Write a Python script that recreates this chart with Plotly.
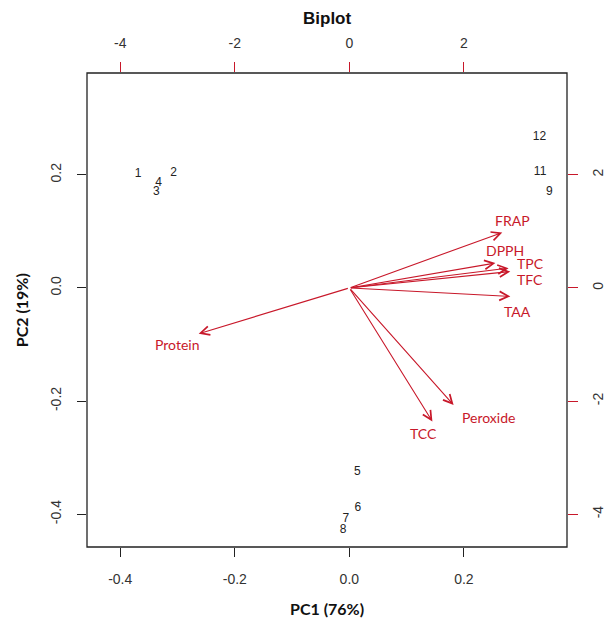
import plotly.graph_objects as go

# observation scores (bottom / left axes)
obs_labels = ['1', '2', '3', '4', '5', '6', '7', '8', '9', '11', '12']
pc1_scores = [-0.369, -0.307, -0.337, -0.333, 0.014, 0.015, -0.006, -0.011, 0.349, 0.333, 0.332]
pc2_scores = [0.201, 0.203, 0.170, 0.185, -0.326, -0.389, -0.409, -0.428, 0.170, 0.205, 0.266]

# variable loadings (top / right axes)
var_labels = ['FRAP', 'DPPH', 'TPC', 'TFC', 'TAA', 'Protein', 'TCC', 'Peroxide']
load_pc1 = [2.67, 2.55, 2.78, 2.81, 2.81, -2.63, 1.45, 1.82]
load_pc2 = [0.98, 0.44, 0.35, 0.29, -0.15, -0.81, -2.36, -2.07]

# label offsets in pixels (style)
lab_dx = [10, 10, 22, 20, 7, -22, -9, 35]
lab_dy = [12, 13, 5, -8, -15, -11, -12, -12]

bottom_ticks = [-0.4, -0.2, 0.0, 0.2]
bottom_ticktext = ['-0.4', '-0.2', '0.0', '0.2']
top_ticks = [-4, -2, 0, 2]
top_ticktext = ['-4', '-2', '0', '2']

lim = [-0.458, 0.38]
lim2 = [v * 10 for v in lim]
RED = '#c8182a'
TICKFONT = dict(family='Liberation Sans, Arial', size=14, color='#333333')

fig = go.Figure()
fig.add_trace(go.Scatter(
    x=pc1_scores, y=pc2_scores, text=obs_labels, mode='text',
    textfont=dict(family='Liberation Sans, Arial', size=12, color='#222222'),
    textposition='middle center', showlegend=False, hoverinfo='skip',
    xaxis='x', yaxis='y'))
# invisible trace on secondary axes to activate them
fig.add_trace(go.Scatter(x=[0], y=[0], mode='markers', marker=dict(opacity=0),
                         xaxis='x2', yaxis='y2', showlegend=False, hoverinfo='skip'))

annotations = []
for name, lx, ly, dx, dy in zip(var_labels, load_pc1, load_pc2, lab_dx, lab_dy):
    annotations.append(dict(
        x=lx, y=ly, ax=0, ay=0, xref='x2', yref='y2', axref='x2', ayref='y2',
        text='', showarrow=True, arrowhead=5, arrowsize=1.6, arrowwidth=1.1,
        arrowcolor=RED, standoff=0, startstandoff=0))
    annotations.append(dict(
        x=lx, y=ly, xref='x2', yref='y2', text=name, showarrow=False,
        xshift=dx, yshift=dy, xanchor='center', yanchor='middle',
        font=dict(family='Lato, Open Sans', size=14, color=RED)))

annotations += [
    dict(text='<b>Biplot</b>', x=0.5, y=1.116, xref='paper', yref='paper',
         showarrow=False, xanchor='center', yanchor='middle',
         font=dict(family='Liberation Sans, Arial', size=17, color='#111111')),
    dict(text='<b>PC1 (76%)</b>', x=0.5, y=-0.129, xref='paper', yref='paper',
         showarrow=False, xanchor='center', yanchor='middle',
         font=dict(family='Lato, Open Sans', size=16, color='#111111')),
    dict(text='<b>PC2 (19%)</b>', x=-0.137, y=0.5, xref='paper', yref='paper',
         showarrow=False, xanchor='center', yanchor='middle', textangle=-90,
         font=dict(family='Lato, Open Sans', size=16, color='#111111')),
]

common = dict(showgrid=False, zeroline=False, showline=False, automargin=False,
              fixedrange=True, tickfont=TICKFONT, tickwidth=1.2)

fig.update_layout(
    template='none',
    width=605, height=626, autosize=False,
    margin=dict(l=87, r=38, t=73, b=79, autoexpand=False),
    paper_bgcolor='white', plot_bgcolor='white',
    showlegend=False,
    xaxis=dict(range=lim, tickvals=bottom_ticks, ticktext=bottom_ticktext,
               ticks='outside', ticklen=9, tickcolor='#222222',
               ticklabelstandoff=10, **common),
    yaxis=dict(range=lim, tickvals=bottom_ticks, ticktext=bottom_ticktext,
               ticks='outside', ticklen=9, tickcolor='#222222', tickangle=-90,
               ticklabelstandoff=10, **common),
    xaxis2=dict(range=lim2, tickvals=top_ticks, ticktext=top_ticktext,
                overlaying='x', side='top', anchor='y',
                ticks='outside', ticklen=10, tickcolor=RED,
                ticklabelstandoff=8, **common),
    yaxis2=dict(range=lim2, tickvals=top_ticks, ticktext=top_ticktext,
                overlaying='y', side='right', anchor='x',
                ticks='outside', ticklen=10, tickcolor=RED, tickangle=-90,
                ticklabelstandoff=8, **common),
    annotations=annotations,
    shapes=[dict(type='rect', xref='paper', yref='paper', x0=0, y0=0, x1=1, y1=1,
                 line=dict(color='#222222', width=1.3))],
)

fig.write_html('out.html')
